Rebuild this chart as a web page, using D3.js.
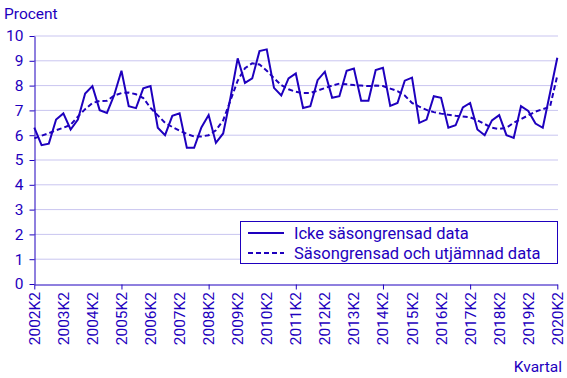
<!DOCTYPE html>
<html><head><meta charset="utf-8">
<script src="https://cdn.jsdelivr.net/npm/d3@7"></script>
<style>body{margin:0;background:#fff}svg{display:block}text{font-family:Roboto,Arial,sans-serif}</style>
</head><body><svg id="c" width="567" height="378"></svg>
<script>
const years = d3.range(2002, 2021);
const quarters = [];
for (let y = 2002; y <= 2020; y++) for (let q = 1; q <= 4; q++) {
  if ((y === 2002 && q < 2) || (y === 2020 && q > 2)) continue;
  quarters.push(y + "K" + q);
}
const tickLabels = years.map(y => y + "K2");
const majorTicks = ["2002K2","2005K2","2008K2","2011K2","2014K2","2017K2","2020K2"];
const yTicks = d3.range(0, 11);
const rawSeries = [6.31,5.6,5.66,6.63,6.88,6.23,6.63,7.68,7.98,7.01,6.9,7.62,8.6,7.17,7.09,7.89,7.98,6.3,6.0,6.78,6.88,5.49,5.49,6.31,6.81,5.69,6.07,7.5,9.1,8.11,8.29,9.39,9.46,7.91,7.6,8.29,8.49,7.1,7.17,8.22,8.56,7.51,7.57,8.6,8.69,7.39,7.39,8.63,8.72,7.18,7.3,8.2,8.32,6.5,6.63,7.57,7.51,6.3,6.4,7.12,7.3,6.23,6.0,6.6,6.81,6.0,5.89,7.17,6.98,6.47,6.3,7.7,9.12];
const trendSeries = [5.87,5.98,6.08,6.2,6.3,6.42,6.75,7.05,7.3,7.38,7.39,7.6,7.7,7.72,7.65,7.5,7.1,6.8,6.5,6.33,6.18,6.05,5.95,5.95,6.0,6.2,6.6,7.4,8.2,8.7,8.9,8.85,8.6,8.3,8.02,7.85,7.75,7.7,7.7,7.8,7.9,8.0,8.08,8.05,8.02,8.0,7.98,8.0,7.98,7.88,7.78,7.6,7.3,7.15,7.02,6.93,6.87,6.82,6.78,6.75,6.72,6.6,6.45,6.3,6.25,6.3,6.5,6.65,6.8,6.95,7.05,7.15,8.4];
const legendLabels = ["Icke säsongrensad data", "Säsongrensad och utjämnad data"];

const C = "#1e00be", G = "#c9c5f0", FS = 15.5;
const svg = d3.select("#c");
const x = d3.scalePoint().domain(quarters).range([34.3, 557.3]);
const y = d3.scaleLinear().domain([0, 10]).range([284, 36]);

svg.append("g").selectAll("line").data(yTicks.filter(d => d > 0)).join("line")
  .attr("x1", 34).attr("x2", 558).attr("y1", d => y(d)).attr("y2", d => y(d))
  .attr("stroke", G).attr("stroke-width", 1);

const ya = svg.append("g").attr("transform", "translate(34.5,0)")
  .call(d3.axisLeft(y).tickValues(yTicks).tickSize(5).tickPadding(6).tickSizeOuter(0));
ya.select(".domain").attr("stroke", C);
ya.selectAll(".tick line").attr("stroke", C);
ya.selectAll("text").attr("fill", C).attr("font-size", FS);

const xa = svg.append("g").attr("transform", "translate(0,284.5)")
  .call(d3.axisBottom(x).tickValues(majorTicks).tickSize(5).tickSizeOuter(0).tickFormat(""));
xa.select(".domain").attr("stroke", C);
xa.selectAll(".tick line").attr("stroke", C);
svg.append("g").selectAll("text").data(tickLabels).join("text")
  .attr("transform", d => `translate(${x(d) + 5.5},292) rotate(-90)`)
  .attr("text-anchor", "end").attr("fill", C).attr("font-size", FS).text(d => d);

const line = d3.line().x((d, i) => x(quarters[i])).y(d => y(d));
svg.append("path").datum(trendSeries).attr("d", line).attr("fill", "none")
  .attr("stroke", C).attr("stroke-width", 2).attr("stroke-dasharray", "5,3");
svg.append("path").datum(rawSeries).attr("d", line).attr("fill", "none")
  .attr("stroke", C).attr("stroke-width", 2);

svg.append("text").attr("x", 4).attr("y", 19).attr("fill", C).attr("font-size", FS).text("Procent");
svg.append("text").attr("x", 562).attr("y", 372).attr("text-anchor", "end").attr("fill", C).attr("font-size", FS).text("Kvartal");

const lg = svg.append("g");
lg.append("rect").attr("x", 240.5).attr("y", 221.5).attr("width", 317).attr("height", 42)
  .attr("fill", "#fff").attr("stroke", C).attr("stroke-width", 1);
legendLabels.forEach((t, i) => {
  const yy = 233 + i * 20;
  lg.append("line").attr("x1", 248).attr("x2", 284).attr("y1", yy).attr("y2", yy)
    .attr("stroke", C).attr("stroke-width", 2).attr("stroke-dasharray", i ? "5,3" : null);
  lg.append("text").attr("x", 294).attr("y", yy + 5.5).attr("fill", C).attr("font-size", 16.5).text(t);
});
</script></body></html>
